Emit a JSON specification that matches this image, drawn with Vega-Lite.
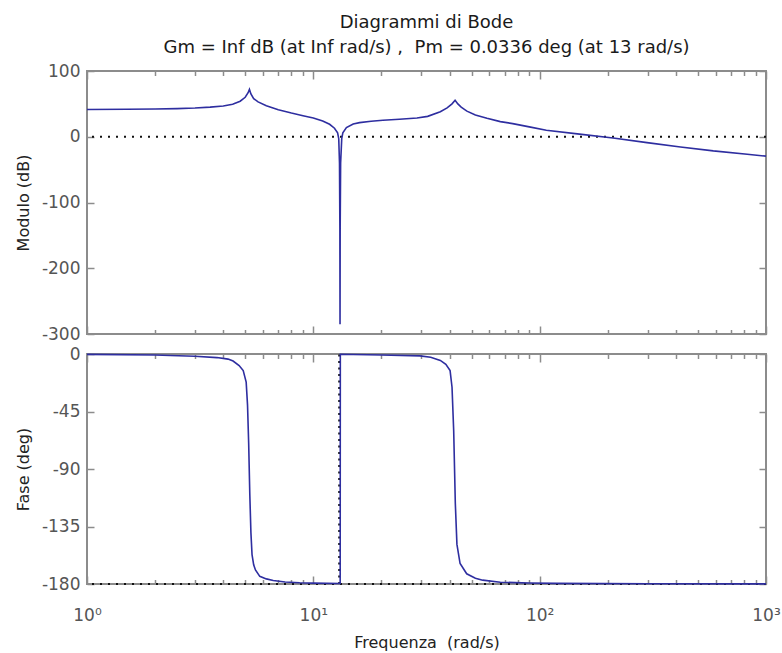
{
  "$schema": "https://vega.github.io/schema/vega-lite/v6.json",
  "background": "white",
  "padding": {"left": 14, "top": 13, "right": 5, "bottom": 5},
  "spacing": 20,
  "bounds": "flush",
  "datasets": {
    "mag": [
      {"w": 1, "db": 41.5}, {"w": 1.5, "db": 41.8}, {"w": 2, "db": 42.2}, {"w": 2.5, "db": 42.8},
      {"w": 3, "db": 43.7}, {"w": 3.5, "db": 45}, {"w": 4, "db": 46.8}, {"w": 4.4, "db": 49.5},
      {"w": 4.75, "db": 54}, {"w": 5.0, "db": 60}, {"w": 5.15, "db": 67}, {"w": 5.22, "db": 72},
      {"w": 5.3, "db": 65}, {"w": 5.45, "db": 58}, {"w": 5.7, "db": 53}, {"w": 6.2, "db": 47},
      {"w": 7, "db": 41}, {"w": 8, "db": 36}, {"w": 9, "db": 32}, {"w": 10, "db": 28.5},
      {"w": 11, "db": 24}, {"w": 11.8, "db": 19}, {"w": 12.4, "db": 13}, {"w": 12.8, "db": 6},
      {"w": 12.95, "db": -3}, {"w": 13.05, "db": -40}, {"w": 13.1, "db": -140}, {"w": 13.12, "db": -285},
      {"w": 13.14, "db": -140}, {"w": 13.2, "db": -40}, {"w": 13.35, "db": -3}, {"w": 13.5, "db": 6},
      {"w": 14, "db": 14}, {"w": 15, "db": 19.5}, {"w": 16, "db": 21.5}, {"w": 18, "db": 23.5},
      {"w": 20.3, "db": 25}, {"w": 24, "db": 26.5}, {"w": 28.7, "db": 28.5}, {"w": 32, "db": 31},
      {"w": 36.4, "db": 38}, {"w": 39, "db": 44}, {"w": 41, "db": 50}, {"w": 42.3, "db": 55.5},
      {"w": 43.5, "db": 50}, {"w": 45, "db": 45}, {"w": 47.7, "db": 39}, {"w": 52, "db": 33},
      {"w": 58.5, "db": 28}, {"w": 67, "db": 23}, {"w": 76, "db": 20}, {"w": 90, "db": 15},
      {"w": 107, "db": 10}, {"w": 150, "db": 4}, {"w": 211, "db": -2}, {"w": 298, "db": -9},
      {"w": 419, "db": -15.5}, {"w": 585, "db": -21.5}, {"w": 826, "db": -26.5}, {"w": 1000, "db": -29.5}
    ],
    "phase": [
      {"w": 1, "deg": -0.3}, {"w": 2, "deg": -0.8}, {"w": 2.33, "deg": -1.2}, {"w": 3, "deg": -1.8},
      {"w": 3.75, "deg": -2.8}, {"w": 4.2, "deg": -4}, {"w": 4.42, "deg": -5.5}, {"w": 4.7, "deg": -9},
      {"w": 4.9, "deg": -13}, {"w": 5.05, "deg": -22}, {"w": 5.12, "deg": -40}, {"w": 5.18, "deg": -70},
      {"w": 5.24, "deg": -110}, {"w": 5.3, "deg": -140}, {"w": 5.36, "deg": -157}, {"w": 5.45, "deg": -165},
      {"w": 5.55, "deg": -169}, {"w": 5.8, "deg": -174}, {"w": 6.2, "deg": -176}, {"w": 6.65, "deg": -177.3},
      {"w": 7.5, "deg": -178.4}, {"w": 8.7, "deg": -179}, {"w": 10, "deg": -179.3}, {"w": 13.14, "deg": -179.6},
      {"w": 13.16, "deg": -0.2}, {"w": 15, "deg": -0.4}, {"w": 20, "deg": -0.8}, {"w": 29.6, "deg": -1.5},
      {"w": 33, "deg": -2.5}, {"w": 36.4, "deg": -5}, {"w": 38.5, "deg": -8}, {"w": 40.2, "deg": -13},
      {"w": 41, "deg": -26}, {"w": 41.7, "deg": -60}, {"w": 42.4, "deg": -117}, {"w": 43.1, "deg": -149},
      {"w": 44.5, "deg": -164}, {"w": 47.6, "deg": -172}, {"w": 52, "deg": -175.5}, {"w": 56, "deg": -177},
      {"w": 67, "deg": -178.6}, {"w": 90, "deg": -179.2}, {"w": 119, "deg": -179.5}, {"w": 300, "deg": -179.8},
      {"w": 1000, "deg": -179.9}
    ],
    "pm": [{"w": 13, "lo": -180, "hi": 0}],
    "magref": [{"db": 0}],
    "phref": [{"deg": -180}]
  },
  "vconcat": [
    {
      "width": 679,
      "height": 263,
      "title": {
        "text": ["Diagrammi di Bode", "Gm = Inf dB (at Inf rad/s) ,\u00a0 Pm = 0.0336 deg (at 13 rad/s)"],
        "anchor": "middle",
        "frame": "group",
        "font": "DejaVu Sans",
        "fontSize": 18,
        "fontWeight": "normal",
        "color": "#1a1a1a",
        "lineHeight": 25,
        "offset": 5
      },
      "resolve": {"axis": {"x": "independent", "y": "independent"}},
      "layer": [
        {
          "data": {"name": "magref"},
          "mark": {"type": "rule", "color": "#111111", "strokeWidth": 2, "strokeDash": [2, 6]},
          "encoding": {
            "y": {"field": "db", "type": "quantitative", "scale": {"domain": [-300, 100], "nice": false, "zero": false}, "axis": null}
          }
        },
        {
          "data": {"name": "mag"},
          "mark": {"type": "line", "color": "#2e2ea0", "strokeWidth": 1.6},
          "encoding": {
            "x": {
              "field": "w", "type": "quantitative",
              "scale": {"type": "log", "domain": [1, 1000], "nice": false},
              "axis": {
                "orient": "top", "offset": -263, "labels": false, "title": null,
                "values": [1,2,3,4,5,6,7,8,9,10,20,30,40,50,60,70,80,90,100,200,300,400,500,600,700,800,900,1000],
                "tickSize": {"condition": {"test": "indexof([1,10,100,1000], datum.value) >= 0", "value": 8}, "value": 4.5}
              }
            },
            "y": {
              "field": "db", "type": "quantitative",
              "scale": {"domain": [-300, 100], "nice": false, "zero": false},
              "axis": {
                "orient": "left", "values": [100, 0, -100, -200, -300],
                "ticks": false, "labelPadding": 7, "labelExpr": "'' + datum.value",
                "title": "Modulo (dB)", "titleX": -64, "titleY": 131.5, "titleAngle": -90,
                "titleAlign": "center", "titleBaseline": "middle"
              }
            }
          }
        },
        {
          "data": {"name": "mag"},
          "mark": {"type": "line", "opacity": 0},
          "encoding": {
            "x": {
              "field": "w", "type": "quantitative",
              "scale": {"type": "log", "domain": [1, 1000], "nice": false},
              "axis": {
                "orient": "bottom", "offset": -263, "labels": false, "title": null,
                "values": [1,2,3,4,5,6,7,8,9,10,20,30,40,50,60,70,80,90,100,200,300,400,500,600,700,800,900,1000],
                "tickSize": {"condition": {"test": "indexof([1,10,100,1000], datum.value) >= 0", "value": 8}, "value": 4.5}
              }
            },
            "y": {
              "field": "db", "type": "quantitative",
              "scale": {"domain": [-300, 100], "nice": false, "zero": false},
              "axis": {"orient": "right", "offset": -679, "values": [100, 0, -100, -200, -300], "tickSize": 7, "labels": false, "title": null}
            }
          }
        },
        {
          "data": {"name": "mag"},
          "mark": {"type": "line", "opacity": 0},
          "encoding": {
            "x": {"field": "w", "type": "quantitative", "scale": {"type": "log", "domain": [1, 1000], "nice": false}, "axis": null},
            "y": {
              "field": "db", "type": "quantitative",
              "scale": {"domain": [-300, 100], "nice": false, "zero": false},
              "axis": {"orient": "left", "offset": -679, "values": [100, 0, -100, -200, -300], "tickSize": 7, "labels": false, "title": null}
            }
          }
        }
      ]
    },
    {
      "width": 679,
      "height": 230,
      "resolve": {"axis": {"x": "independent", "y": "independent"}},
      "layer": [
        {
          "data": {"name": "phref"},
          "mark": {"type": "rule", "color": "#111111", "strokeWidth": 2, "strokeDash": [2, 6]},
          "encoding": {
            "y": {"field": "deg", "type": "quantitative", "scale": {"domain": [-180, 0], "nice": false, "zero": false}, "axis": null}
          }
        },
        {
          "data": {"name": "pm"},
          "mark": {"type": "rule", "color": "#111111", "strokeWidth": 1.8, "strokeDash": [2, 4.5]},
          "encoding": {
            "x": {"field": "w", "type": "quantitative", "scale": {"type": "log", "domain": [1, 1000], "nice": false}, "axis": null},
            "y": {"field": "lo", "type": "quantitative", "scale": {"domain": [-180, 0], "nice": false, "zero": false}, "axis": null},
            "y2": {"field": "hi"}
          }
        },
        {
          "data": {"name": "phase"},
          "mark": {"type": "line", "color": "#2e2ea0", "strokeWidth": 1.6},
          "encoding": {
            "x": {
              "field": "w", "type": "quantitative",
              "scale": {"type": "log", "domain": [1, 1000], "nice": false},
              "axis": {
                "orient": "bottom", "ticks": false,
                "values": [1, 10, 100, 1000],
                "labelExpr": "datum.value == 1 ? '10\u2070' : datum.value == 10 ? '10\u00b9' : datum.value == 100 ? '10\u00b2' : datum.value == 1000 ? '10\u00b3' : ''",
                "labelFlush": false, "labelOverlap": false, "labelBound": false,
                "labelPadding": 23, "labelBaseline": "top", "labelAlign": "center",
                "title": "Frequenza\u00a0 (rad/s)", "titleY": 58, "titleBaseline": "middle"
              }
            },
            "y": {
              "field": "deg", "type": "quantitative",
              "scale": {"domain": [-180, 0], "nice": false, "zero": false},
              "axis": {
                "orient": "left", "values": [0, -45, -90, -135, -180],
                "ticks": false, "labelPadding": 7, "labelExpr": "'' + datum.value",
                "title": "Fase (deg)", "titleX": -64, "titleY": 115, "titleAngle": -90,
                "titleAlign": "center", "titleBaseline": "middle"
              }
            }
          }
        },
        {
          "data": {"name": "phase"},
          "mark": {"type": "line", "opacity": 0},
          "encoding": {
            "x": {
              "field": "w", "type": "quantitative",
              "scale": {"type": "log", "domain": [1, 1000], "nice": false},
              "axis": {
                "orient": "top", "offset": -230, "labels": false, "title": null,
                "values": [1,2,3,4,5,6,7,8,9,10,20,30,40,50,60,70,80,90,100,200,300,400,500,600,700,800,900,1000],
                "tickSize": {"condition": {"test": "indexof([1,10,100,1000], datum.value) >= 0", "value": 8}, "value": 4.5}
              }
            },
            "y": {
              "field": "deg", "type": "quantitative",
              "scale": {"domain": [-180, 0], "nice": false, "zero": false},
              "axis": {"orient": "right", "offset": -679, "values": [0, -45, -90, -135, -180], "tickSize": 7, "labels": false, "title": null}
            }
          }
        },
        {
          "data": {"name": "phase"},
          "mark": {"type": "line", "opacity": 0},
          "encoding": {
            "x": {
              "field": "w", "type": "quantitative",
              "scale": {"type": "log", "domain": [1, 1000], "nice": false},
              "axis": {
                "orient": "bottom", "offset": -230, "labels": false, "title": null,
                "values": [1,2,3,4,5,6,7,8,9,10,20,30,40,50,60,70,80,90,100,200,300,400,500,600,700,800,900,1000],
                "tickSize": {"condition": {"test": "indexof([1,10,100,1000], datum.value) >= 0", "value": 8}, "value": 4.5}
              }
            },
            "y": {
              "field": "deg", "type": "quantitative",
              "scale": {"domain": [-180, 0], "nice": false, "zero": false},
              "axis": {"orient": "left", "offset": -679, "values": [0, -45, -90, -135, -180], "tickSize": 7, "labels": false, "title": null}
            }
          }
        }
      ]
    }
  ],
  "config": {
    "view": {"stroke": "#8c8c8c", "strokeWidth": 2},
    "axis": {
      "domain": false,
      "grid": false,
      "labelFont": "DejaVu Sans",
      "labelFontSize": 17,
      "labelColor": "#555555",
      "titleFont": "DejaVu Sans",
      "titleFontSize": 16,
      "titleFontWeight": "normal",
      "titleColor": "#222222",
      "tickColor": "#8c8c8c",
      "tickWidth": 1.5
    }
  }
}
